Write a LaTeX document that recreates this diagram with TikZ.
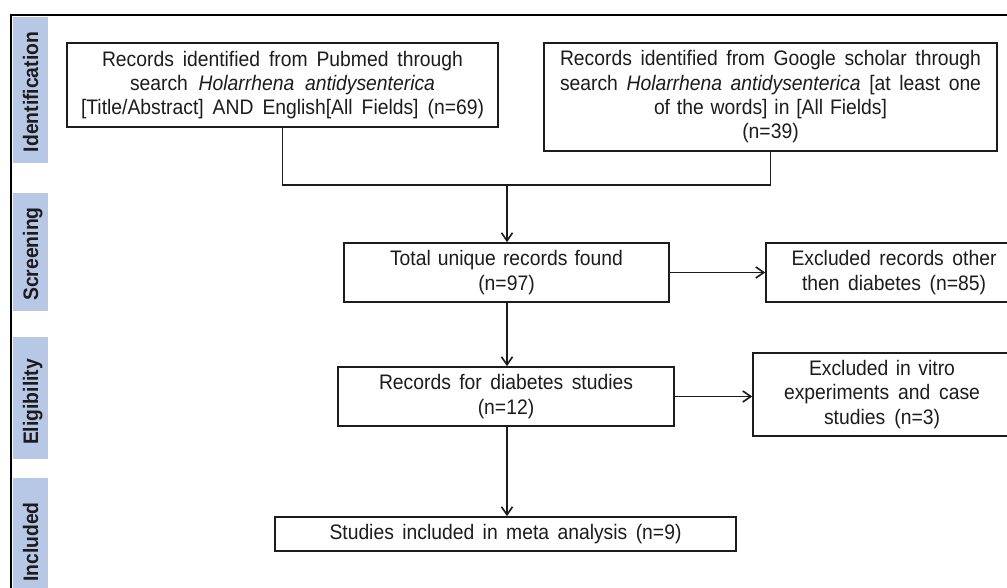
\documentclass[tikz,border=0pt]{standalone}
\usepackage{fontspec}
\setmainfont[FakeStretch=0.92]{Liberation Sans}
\usetikzlibrary{arrows.meta}
\definecolor{barblue}{HTML}{B7C8E6}
\definecolor{ink}{HTML}{1C1C1C}
\begin{document}
\begin{tikzpicture}[x=1pt,y=-1pt,
  box/.style={draw=ink, line width=1.6pt, inner sep=0pt, align=center, text=ink,
    font=\fontsize{21}{24.3}\selectfont},
  lab/.style={text=ink, inner sep=0pt, font=\fontsize{21}{24}\selectfont\bfseries},
  link/.style={draw=ink, line width=1.6pt},
  arr/.style={link, -{Straight Barb[length=8pt,width=11pt,line width=1.6pt]}},
  bar/.style={fill=barblue}]
\useasboundingbox (0,0) rectangle (1007,588);
\clip (0,0) rectangle (1007,588);
\fill[white] (0,0) rectangle (1007,588);
% outer frame
\draw[line width=2pt, draw=black] (11,600) -- (11,15) -- (1010,15);
% stage bars
\fill[bar] (13,17) rectangle (48,163);
\fill[bar] (13,193) rectangle (48,311);
\fill[bar] (13,337) rectangle (48,459);
\fill[bar] (13,478) rectangle (48,606);
\node[lab, rotate=90, anchor=base] (lid) at (38,92) {Identification};
\node[lab, rotate=90, anchor=base] (lsc) at (38,254) {Screening};
\node[lab, rotate=90, anchor=base] (lel) at (38,402) {Eligibility};
\node[lab, rotate=90, anchor=base] (lin) at (38,542) {Included};
% boxes
\node[box, minimum width=431pt, minimum height=84pt] (pub) at (282.5,85)
  {\makebox[361pt][s]{Records identified from Pubmed through}\\
   \makebox[305pt][s]{search \textit{Holarrhena antidysenterica}}\\
   \makebox[403pt][s]{[Title/Abstract] AND English[All Fields] (n=69)}};
\node[box, minimum width=453pt, minimum height=108pt] (goo) at (770.5,97)
  {\makebox[421pt][s]{Records identified from Google scholar through}\\
   \makebox[421pt][s]{search \textit{Holarrhena antidysenterica} [at least one}\\
   \makebox[233pt][s]{of the words] in [All Fields]}\\
   (n=39)};
\node[box, minimum width=325pt, minimum height=59pt] (tot) at (506.5,272.5)
  {\makebox[233pt][s]{Total unique records found}\\(n=97)};
\node[box, minimum width=256pt, minimum height=59pt] (ex1) at (894,272.5)
  {\makebox[205pt][s]{Excluded records other}\\\makebox[184pt][s]{then diabetes (n=85)}};
\node[box, minimum width=336pt, minimum height=59pt] (dia) at (506,396.5)
  {\makebox[254pt][s]{Records for diabetes studies}\\(n=12)};
\node[box, minimum width=258pt, minimum height=83pt] (ex2) at (882,394.5)
  {\makebox[146pt][s]{Excluded in vitro}\\\makebox[196pt][s]{experiments and case}\\\makebox[116pt][s]{studies (n=3)}};
\node[box, minimum width=461pt, minimum height=34pt] (inc) at (505.5,534)
  {\makebox[352pt][s]{Studies included in meta analysis (n=9)}};
% connectors
\coordinate (j) at (507,185);
\draw[link] (pub.south) |- (j);
\draw[link] (goo.south) |- (j);
\draw[arr] (j) -- (tot.north -| j);
\draw[arr] (tot.east) -- (ex1.west |- tot.east);
\draw[arr] (tot.south -| j) -- (dia.north -| j);
\draw[arr] (dia.east) -- (ex2.west |- dia.east);
\draw[arr] (dia.south -| j) -- (inc.north -| j);
\end{tikzpicture}
\end{document}
